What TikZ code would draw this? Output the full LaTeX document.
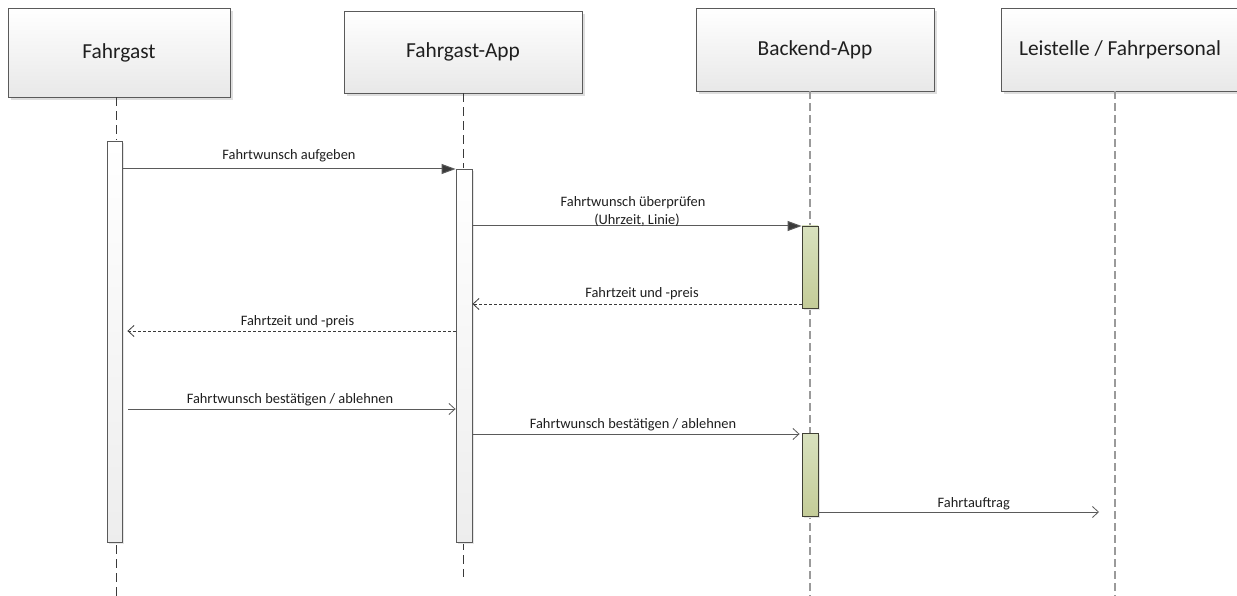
\documentclass[tikz,border=0pt]{standalone}
\usepackage{fontspec}
\setmainfont{Carlito}
\usetikzlibrary{arrows.meta,shadows}
\definecolor{linegray}{HTML}{5A5A5A}
\definecolor{darkline}{HTML}{3A3A3A}
\definecolor{lifegray}{HTML}{9A9A9A}
\definecolor{greentop}{HTML}{D8E1BE}
\definecolor{greenbot}{HTML}{C4CC98}
\definecolor{greenborder}{HTML}{404035}
\begin{document}
\begin{tikzpicture}[x=1pt,y=-1pt,
  header/.style={draw=linegray, line width=0.9pt, top color=white, bottom color=black!9,
    drop shadow={shadow xshift=3pt, shadow yshift=-3pt, fill=black!13, opacity=1},
    inner sep=0pt, text=black!88, font=\fontsize{21.4}{24}\selectfont},
  actbar/.style={draw=linegray, line width=0.9pt, top color=white, bottom color=black!7,
    drop shadow={shadow xshift=2pt, shadow yshift=-2pt, fill=black!10, opacity=1},
    inner sep=0pt, minimum width=15pt},
  greenbar/.style={draw=greenborder, line width=0.9pt, top color=greentop, bottom color=greenbot,
    drop shadow={shadow xshift=2pt, shadow yshift=-2pt, fill=black!10, opacity=1},
    inner sep=0pt, minimum width=16pt},
  lifedark/.style={draw=darkline, line width=0.7pt, dash pattern=on 9pt off 5pt},
  lifelight/.style={draw=lifegray, line width=1.3pt, dash pattern=on 8pt off 4pt},
  syncmsg/.style={draw=linegray, line width=1pt, -{Triangle[length=14pt,width=10pt,fill=darkline]}},
  asyncmsg/.style={draw=linegray, line width=0.9pt, -{Straight Barb[length=6pt,width=11pt,line width=0.8pt]}},
  retmsg/.style={draw=darkline, line width=0.8pt, dash pattern=on 3pt off 2pt, -{Straight Barb[length=6pt,width=11pt,line width=0.8pt]}},
  lbl/.style={font=\fontsize{14.4}{16}\selectfont, text=black!88, inner sep=0pt, anchor=base}
]
\useasboundingbox (0,0) rectangle (1237,596);
\fill[white] (0,0) rectangle (1237,596);

% header boxes
\node[header, minimum width=222pt, minimum height=89pt] (fg) at (119,52.5) {Fahrgast};
\node[header, minimum width=238pt, minimum height=82pt] (fa) at (463,52) {Fahrgast-App};
\node[header, minimum width=238pt, minimum height=83pt] (be) at (815,49.5) {Backend-App};
\node[header, minimum width=238pt, minimum height=83pt] (ls) at (1120,49.5) {Leistelle / Fahrpersonal};

% lifeline ends
\coordinate (fgend) at (116,596);
\coordinate (faend) at (463,577);
\coordinate (beend) at (810,596);
\coordinate (lsend) at (1115,596);

\draw[lifedark] (fg.south -| fgend) -- (fgend);
\draw[lifedark] (fa.south -| faend) -- (faend);
\draw[lifelight] (be.south -| beend) -- (beend);
\draw[lifelight] (ls.south -| lsend) -- (lsend);

% activation bars
\node[actbar, minimum height=401pt] (b1) at (114.5,341.5) {};
\node[actbar, minimum width=16pt, minimum height=373pt] (b2) at (464,355.5) {};
\node[greenbar, minimum height=82pt] (b3) at (810,267) {};
\node[greenbar, minimum height=83pt] (b4) at (810,474.5) {};

% message levels
\coordinate (y1) at (0,169);
\coordinate (y2) at (0,226);
\coordinate (y3) at (0,304);
\coordinate (y4) at (0,331);
\coordinate (y5) at (0,409);
\coordinate (y6) at (0,434);
\coordinate (y7) at (0,512);
\coordinate (lsmsg) at (1099,512);

\draw[syncmsg] (b1.east |- y1) -- node[lbl, yshift=9pt] {Fahrtwunsch aufgeben} (b2.west |- y1);
\draw[syncmsg] (b2.east |- y2) -- node[lbl, yshift=19pt, xshift=-4pt] {Fahrtwunsch überprüfen}
  node[lbl, yshift=1pt] {(Uhrzeit, Linie)} (b3.west |- y2);
\draw[retmsg] (b3.west |- y3) -- node[lbl, yshift=6pt, xshift=5pt] {Fahrtzeit und -preis} (b2.east |- y3);
\draw[retmsg] (b2.west |- y4) -- node[lbl, yshift=6pt, xshift=6pt] {Fahrtzeit und -preis} ([xshift=5pt]b1.east |- y4);
\draw[asyncmsg] ([xshift=6pt]b1.east |- y5) -- node[lbl, yshift=6pt, xshift=-2pt] {Fahrtwunsch bestätigen / ablehnen} (b2.west |- y5);
\draw[asyncmsg] (b2.east |- y6) -- node[lbl, yshift=5.5pt, xshift=-3pt] {Fahrtwunsch bestätigen / ablehnen} ([xshift=-2pt]b4.west |- y6);
\draw[asyncmsg] (b4.east |- y7) -- node[lbl, yshift=5pt, xshift=15pt] {Fahrtauftrag} (lsmsg);
\end{tikzpicture}
\end{document}
